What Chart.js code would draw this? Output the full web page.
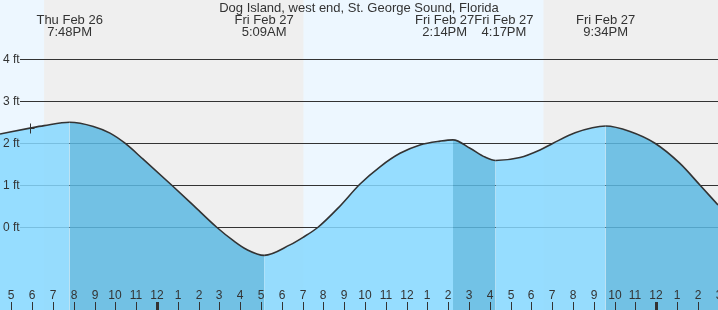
<!DOCTYPE html>
<html>
<head>
<meta charset="utf-8">
<script src="https://cdn.jsdelivr.net/npm/chart.js@4.4.1/dist/chart.umd.min.js"></script>
<style>
  html, body { margin: 0; padding: 0; background: #fff; }
  #wrap { width: 718px; height: 310px; }
</style>
</head>
<body>
<div id="wrap"><canvas id="tide" width="718" height="310"></canvas></div>
<script>
// Station title
const TITLE = 'Dog Island, west end, St. George Sound, Florida';

// Tide curve (hours from Fri Feb 27 00:00, feet)
const HOURS   = [-7.55, -6.11, -5.43, -4.20, -3.06, -2.26, -1.54, -0.67, 0.71, 1.75, 2.87, 3.67, 4.31, 5.15,
                 6.39, 7.02, 7.74, 8.75, 9.76, 10.72, 11.68, 12.64, 13.61, 14.23, 15.05, 15.77, 16.28,
                 17.45, 18.41, 19.04, 20.10, 21.57, 22.74, 23.94, 25.14, 26.11, 26.97];
const HEIGHTS = [2.22, 2.36, 2.42, 2.50, 2.40, 2.24, 2.00, 1.62, 1.00, 0.52, 0.00, -0.32, -0.53, -0.67,
                 -0.42, -0.24, 0.00, 0.48, 1.03, 1.44, 1.76, 1.96, 2.05, 2.08, 1.88, 1.67, 1.59,
                 1.66, 1.84, 2.00, 2.25, 2.41, 2.28, 2.00, 1.52, 1.00, 0.53];

// High / low events
const EVENT_HOURS = [-4.20, 5.15, 14.23, 16.28, 21.57];
const EVENT_DAYS  = ['Thu Feb 26', 'Fri Feb 27', 'Fri Feb 27', 'Fri Feb 27', 'Fri Feb 27'];
const EVENT_TIMES = ['7:48PM', '5:09AM', '2:14PM', '4:17PM', '9:34PM'];

// Night bands
const SUNSETS  = [-5.43, 18.58];
const SUNRISES = [7.04, 31.05];

// Axis ticks
const Y_TICKS = [0, 1, 2, 3, 4];
const X_TICK_FIRST = -7, X_TICK_LAST = 27;

// "now" marker
const NOW_HOUR = -6.11, NOW_HEIGHT = 2.36;

// Visible range
const X_MIN = -7.55, X_MAX = 26.97, Y_MIN = -1.97, Y_MAX = 5.41;

const FONT = '12px "Liberation Sans", Arial, sans-serif';
const FONT_TOP = '13px "Liberation Sans", Arial, sans-serif';
const TEXT = '#333';
const LIGHT = 'rgba(134,216,255,0.85)';
const DARK  = 'rgba(92,184,226,0.85)';

const tideDecor = {
    id: 'tideDecor',
    beforeDraw(chart) {
        const { ctx, chartArea: a, scales: { x, y } } = chart;
        ctx.save();
        ctx.fillStyle = '#edf7ff';
        ctx.fillRect(a.left, a.top, a.right - a.left, a.bottom - a.top);
        ctx.fillStyle = '#efefef';
        SUNSETS.forEach((s, i) => {
            const x0 = Math.max(a.left, x.getPixelForValue(s));
            const x1 = Math.min(a.right, x.getPixelForValue(SUNRISES[i]));
            ctx.fillRect(x0, a.top, x1 - x0, a.bottom - a.top);
        });
        // grid lines
        ctx.strokeStyle = '#333';
        ctx.lineWidth = 1;
        Y_TICKS.forEach(v => {
            const py = Math.round(y.getPixelForValue(v)) + 0.5;
            ctx.beginPath();
            ctx.moveTo(20, py);
            ctx.lineTo(a.right, py);
            ctx.stroke();
        });
        ctx.restore();
    },
    afterDatasetsDraw(chart) {
        const { ctx, chartArea: a, scales: { x, y } } = chart;
        ctx.save();
        ctx.font = FONT;
        ctx.fillStyle = TEXT;
        ctx.strokeStyle = TEXT;

        // y labels
        ctx.textAlign = 'left';
        ctx.textBaseline = 'middle';
        Y_TICKS.forEach(v => ctx.fillText(v + ' ft', 3, y.getPixelForValue(v)));

        // hour ticks
        ctx.textAlign = 'center';
        for (let h = X_TICK_FIRST; h <= X_TICK_LAST; h++) {
            const px = Math.round(x.getPixelForValue(h));
            const lbl = ((h % 12) + 12) % 12 || 12;
            ctx.fillText(String(lbl), px, 296);
            const midnight = ((h % 24) + 24) % 24 === 0;
            ctx.fillRect(midnight ? px - 1 : px, 302, midnight ? 3 : 1, a.bottom - 302);
        }

        // event labels, pushed apart when crowded
        ctx.font = FONT_TOP;
        const w = ctx.measureText('Fri Feb 27').width;
        const cx = EVENT_HOURS.map(h => x.getPixelForValue(h));
        for (let i = 1; i < cx.length; i++) {
            if (cx[i] - cx[i - 1] < w) {
                const mid = (cx[i] + cx[i - 1]) / 2;
                cx[i - 1] = mid - w / 2;
                cx[i] = mid + w / 2;
            }
        }
        cx.forEach((px, i) => {
            ctx.fillText(EVENT_DAYS[i], px, 20);
            ctx.fillText(EVENT_TIMES[i], px, 32);
        });

        // title
        ctx.fillText(TITLE, (a.left + a.right) / 2, 8);

        // now marker
        const nx = Math.round(x.getPixelForValue(NOW_HOUR)) + 0.5;
        const ny = Math.round(y.getPixelForValue(NOW_HEIGHT)) + 0.5;
        ctx.lineWidth = 1;
        ctx.beginPath();
        ctx.moveTo(nx - 4, ny); ctx.lineTo(nx + 4, ny);
        ctx.moveTo(nx, ny - 5); ctx.lineTo(nx, ny + 5);
        ctx.stroke();
        ctx.restore();
    }
};

new Chart(document.getElementById('tide').getContext('2d'), {
    type: 'line',
    data: {
        datasets: [{
            data: HOURS.map((h, i) => ({ x: h, y: HEIGHTS[i] })),
            borderColor: '#333',
            borderWidth: 1.6,
            pointRadius: 0,
            fill: 'start',
            backgroundColor: LIGHT,
            cubicInterpolationMode: 'monotone',
            segment: {
                backgroundColor: c => c.p1.parsed.y < c.p0.parsed.y ? DARK : LIGHT
            }
        }]
    },
    options: {
        responsive: false,
        animation: false,
        layout: { padding: 0 },
        plugins: { legend: { display: false }, tooltip: { enabled: false } },
        scales: {
            x: { type: 'linear', min: X_MIN, max: X_MAX, display: false },
            y: { type: 'linear', min: Y_MIN, max: Y_MAX, display: false }
        }
    },
    plugins: [tideDecor]
});
</script>
</body>
</html>
